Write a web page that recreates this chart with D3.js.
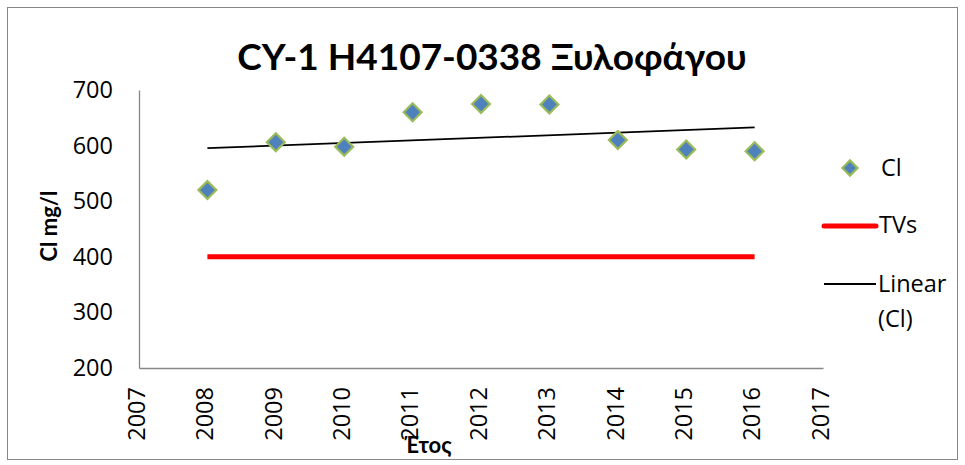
<!DOCTYPE html>
<html><head><meta charset="utf-8">
<script src="https://cdn.jsdelivr.net/npm/d3@7"></script>
<style>body{margin:0;background:#fff}svg{display:block;font-family:"Open Sans","Noto Sans",sans-serif}</style>
</head><body>
<svg id="c" width="965" height="465"></svg>
<script>
const years = [2008,2009,2010,2011,2012,2013,2014,2015,2016];
const clValues = [520,606,598,660,675,674,610,593,590];
const tvValue = 400;
const xTicks = [2007,2008,2009,2010,2011,2012,2013,2014,2015,2016,2017];
const yTicks = [200,300,400,500,600,700];
const title = "CY-1 H4107-0338 Ξυλοφάγου";
const FONT = '"Open Sans",sans-serif';

const svg = d3.select("#c");
svg.append("rect").attr("x",7.5).attr("y",7.5).attr("width",950).attr("height",452)
  .attr("fill","#fff").attr("stroke","#868686").attr("stroke-width",1);

const x = d3.scaleLinear().domain([2007,2017]).range([139,823]);
const y = d3.scaleLinear().domain([200,700]).range([368,90]);

// axes
const yAxis = svg.append("g").attr("transform","translate(139,0)")
  .call(d3.axisLeft(y).tickValues(yTicks).tickSize(0).tickPadding(26));
const xAxis = svg.append("g").attr("transform","translate(0,368)")
  .call(d3.axisBottom(x).tickValues(xTicks).tickFormat(d3.format("d")).tickSize(0));
[yAxis,xAxis].forEach(a=>{
  a.select(".domain").attr("stroke","#868686").attr("stroke-width",1.3);
  a.selectAll("text").attr("font-size",23.5).attr("fill","#000").attr("font-family",FONT);
});
xAxis.selectAll("text").attr("transform","rotate(-90)").attr("text-anchor","end")
  .attr("x",-19).attr("y",-3).attr("dy","0.35em");

// TVs line
svg.append("line").attr("x1",x(years[0])).attr("x2",x(years[years.length-1]))
  .attr("y1",y(tvValue)).attr("y2",y(tvValue)).attr("stroke","#FF0000").attr("stroke-width",5);

// linear trend
const mx = d3.mean(years), my = d3.mean(clValues);
const slope = d3.sum(years.map((v,i)=>(v-mx)*(clValues[i]-my)))/d3.sum(years.map(v=>(v-mx)*(v-mx)));
const trend = v => my + slope*(v-mx);
const x0 = years[0], x1 = years[years.length-1];
svg.append("line").attr("x1",x(x0)).attr("x2",x(x1)).attr("y1",y(trend(x0))).attr("y2",y(trend(x1)))
  .attr("stroke","#000").attr("stroke-width",1.8);

// points
const diamond = d3.symbol().type(d3.symbolSquare).size(160);
svg.append("g").selectAll("path").data(years).join("path")
  .attr("d",diamond())
  .attr("transform",(d,i)=>`translate(${x(d)},${y(clValues[i])}) rotate(45)`)
  .attr("fill","#4F81BD").attr("stroke","#9BBB59").attr("stroke-width",2.2);

// title
svg.append("text").attr("x",492).attr("y",70).attr("text-anchor","middle").attr("font-family","Lato,sans-serif")
  .attr("font-size",37).attr("font-weight","bold").text(title);
// axis titles
svg.append("text").attr("transform","translate(57,226) rotate(-90)").attr("text-anchor","middle").attr("font-family","Lato,sans-serif")
  .attr("font-size",22).attr("font-weight","bold").text("Cl mg/l");
svg.append("text").attr("x",428).attr("y",453).attr("text-anchor","middle").attr("font-family","Lato,sans-serif")
  .attr("font-size",22).attr("font-weight","bold").text("Έτος");

// legend
const lg = svg.append("g").attr("font-family",FONT).attr("font-size",23.5);
lg.append("path").attr("d",diamond()).attr("transform","translate(850,168) rotate(45) scale(0.85)")
  .attr("fill","#4F81BD").attr("stroke","#9BBB59").attr("stroke-width",2.6);
lg.append("text").attr("x",881).attr("y",168).attr("dy","0.35em").text("Cl");
lg.append("line").attr("x1",824).attr("x2",876).attr("y1",226).attr("y2",226)
  .attr("stroke","#FF0000").attr("stroke-width",5).attr("stroke-linecap","round");
lg.append("text").attr("x",879).attr("y",225).attr("dy","0.35em").text("TVs");
lg.append("line").attr("x1",824).attr("x2",876).attr("y1",284).attr("y2",284)
  .attr("stroke","#000").attr("stroke-width",1.8);
lg.append("text").attr("x",878).attr("y",284).attr("dy","0.35em").text("Linear");
lg.append("text").attr("x",878).attr("y",319).attr("dy","0.35em").text("(Cl)");
</script>
</body></html>
